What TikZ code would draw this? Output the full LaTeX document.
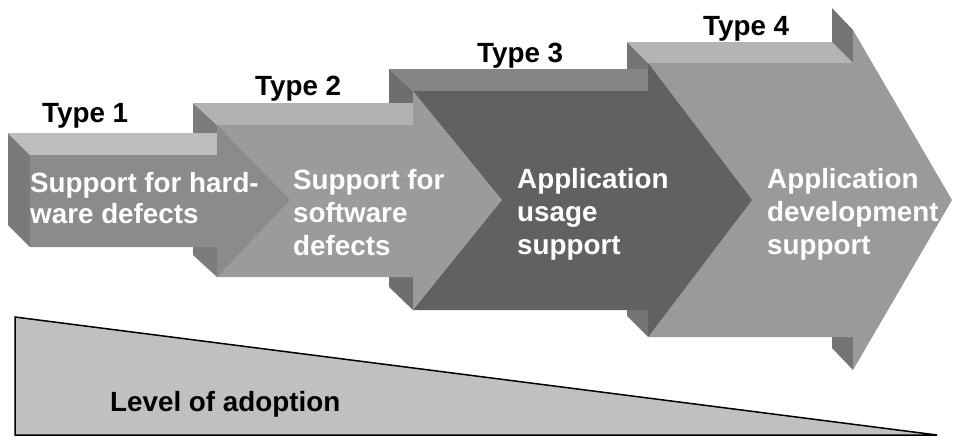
\documentclass[tikz,border=0pt]{standalone}
\usepackage{fontspec}
\setmainfont{Liberation Sans}
\definecolor{aOneFront}{HTML}{8B8B8B}
\definecolor{aOneTop}{HTML}{BDBDBD}
\definecolor{aOneSide}{HTML}{7A7A7A}
\definecolor{aTwoFront}{HTML}{9B9B9B}
\definecolor{aTwoTop}{HTML}{B2B2B2}
\definecolor{aTwoSide}{HTML}{7C7C7C}
\definecolor{aThreeFront}{HTML}{616161}
\definecolor{aThreeTop}{HTML}{858585}
\definecolor{aThreeSide}{HTML}{6E6E6E}
\definecolor{aFourFront}{HTML}{9A9A9A}
\definecolor{aFourTop}{HTML}{B4B4B4}
\definecolor{aFourSide}{HTML}{747474}
\definecolor{triFill}{HTML}{C0C0C0}
\newcommand{\twolines}[2]{\vtop{\hbox{#1}\hbox{#2}}}
\newcommand{\threelines}[3]{\vtop{\hbox{#1}\hbox{#2}\hbox{#3}}}
\begin{document}
\begin{tikzpicture}[x=1pt,y=-1pt,line join=miter]
\tikzset{
  lbl/.style={font=\fontsize{27.8}{33}\selectfont\bfseries, inner sep=0pt, anchor=base west, text=black},
  bodytext/.style={lbl, text=white}
}
\useasboundingbox (0,0) rectangle (953,437);
% ---------- arrow 4 ----------
\fill[aFourSide] (627,42) -- (648,63) -- (648,337) -- (627,316) -- cycle;
\fill[aFourTop] (627,42) -- (832,42) -- (853,63) -- (648,63) -- cycle;
\fill[aFourSide] (832,8) -- (853,30) -- (853,63) -- (832,42) -- cycle;
\fill[aFourSide] (832,337) -- (853,337) -- (853,370) -- (832,348) -- cycle;
\fill[aFourFront] (648,63) -- (853,63) -- (853,30) -- (952,200) -- (853,370) -- (853,337) -- (648,337) -- cycle;
% ---------- arrow 3 ----------
\fill[aThreeSide] (389,69) -- (413,91) -- (413,310) -- (389,287) -- cycle;
\fill[aThreeTop] (389,69) -- (648,69) -- (648,91) -- (413,91) -- cycle;
\fill[aThreeFront] (413,91) -- (648,91) -- (648,63) -- (752,200) -- (648,337) -- (648,310) -- (413,310) -- cycle;
% ---------- arrow 2 ----------
\fill[aTwoSide] (193,103) -- (217,125) -- (217,277) -- (193,255) -- cycle;
\fill[aTwoTop] (193,103) -- (413,103) -- (413,125) -- (217,125) -- cycle;
\fill[aTwoFront] (217,125) -- (413,125) -- (413,91) -- (502,200) -- (413,310) -- (413,277) -- (217,277) -- cycle;
% ---------- arrow 1 ----------
\fill[aOneSide] (8,133) -- (30,155) -- (30,247) -- (8,225) -- cycle;
\fill[aOneTop] (8,133) -- (217,133) -- (217,155) -- (30,155) -- cycle;
\fill[aOneFront] (30,155) -- (217,155) -- (217,125) -- (290,200) -- (217,277) -- (217,247) -- (30,247) -- cycle;
% ---------- labels ----------
\node[lbl] (typeOne) at (42,122) {Type 1};
\node[lbl] (typeTwo) at (255,95) {Type 2};
\node[lbl] (typeThree) at (477,62) {Type 3};
\node[lbl] (typeFour) at (703,35) {Type 4};
\node[bodytext, font=\fontsize{27.8}{31.5}\selectfont\bfseries] (textOne) at (30,192) {\twolines{Support for hard-}{ware defects}};
\node[bodytext] (textTwo) at (293,189) {\threelines{Support for}{software}{defects}};
\node[bodytext] (textThree) at (517,188) {\threelines{Application}{usage}{support}};
\node[bodytext] (textFour) at (767,188) {\threelines{Application}{development}{support}};
% ---------- adoption wedge ----------
\draw[line width=1.5pt, fill=triFill] (15,317) -- (15,435) -- (937,435) -- cycle;
\node[lbl] (level) at (110,411) {Level of adoption};
\end{tikzpicture}
\end{document}
